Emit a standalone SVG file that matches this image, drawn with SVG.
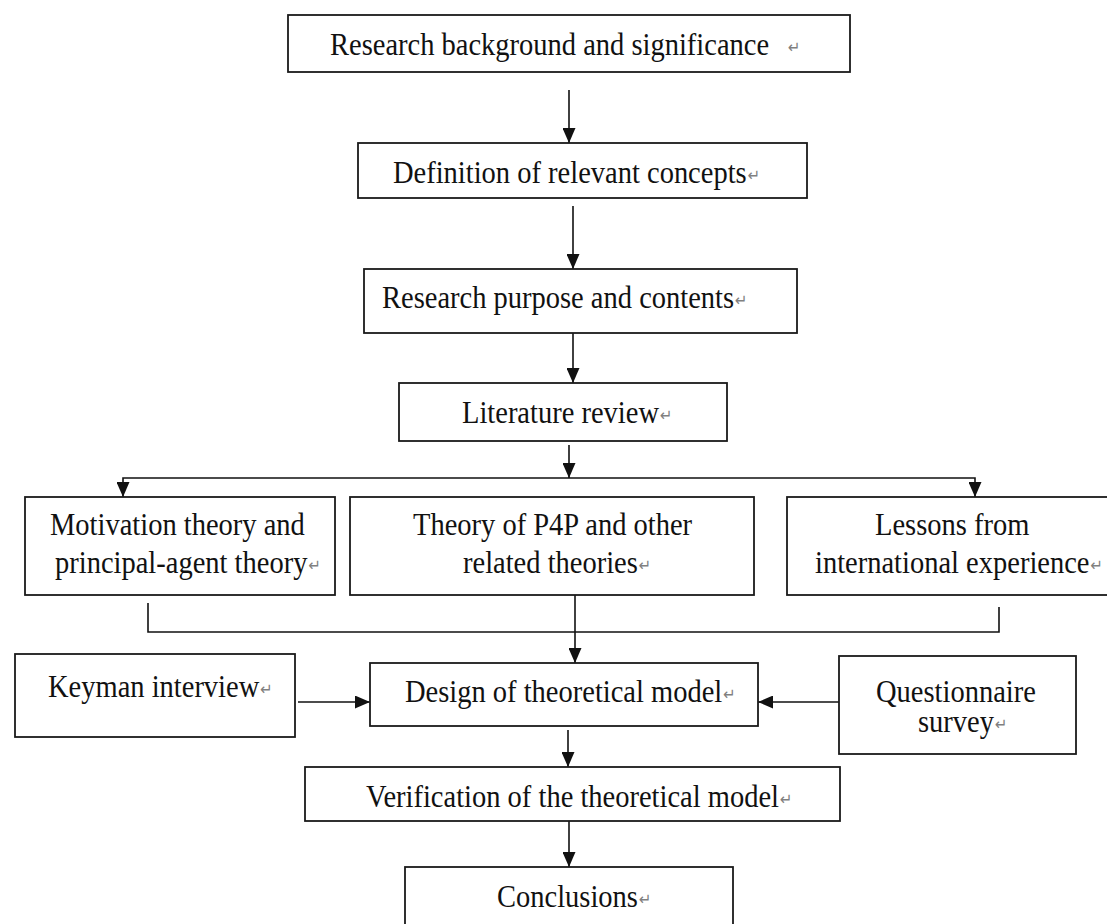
<svg xmlns="http://www.w3.org/2000/svg" width="1107" height="924" viewBox="0 0 1107 924">
  <style>
    .box { fill: #ffffff; stroke: #1a1a1a; stroke-width: 1.8; }
    .lbl { font-family: "Liberation Serif", "Times New Roman", serif; font-size: 28.5px; fill: #111111; }
    .pm { font-family: "DejaVu Sans", sans-serif; font-size: 15px; fill: #808080; }
    .wire { fill: none; stroke: #111111; stroke-width: 1.6; }
  </style>
  <defs>
    <marker id="head" markerUnits="userSpaceOnUse" markerWidth="16" markerHeight="13" refX="15" refY="6.5" orient="auto">
      <path d="M0,0 L15,6.5 L0,13 z" fill="#111111"/>
    </marker>
  </defs>
  <rect width="1107" height="924" fill="#ffffff"/>

  <g id="connectors">
    <path class="wire" d="M569,90 V143" marker-end="url(#head)"/>
    <path class="wire" d="M573,206 V269" marker-end="url(#head)"/>
    <path class="wire" d="M573,333 V383" marker-end="url(#head)"/>
    <path class="wire" d="M569,445 V478" marker-end="url(#head)"/>
    <path class="wire" d="M569,478 H123 V497" marker-end="url(#head)"/>
    <path class="wire" d="M569,478 H975 V497" marker-end="url(#head)"/>
    <path class="wire" d="M148,603 V632 H999 V607"/>
    <path class="wire" d="M575,595 V663" marker-end="url(#head)"/>
    <path class="wire" d="M298,702 H370" marker-end="url(#head)"/>
    <path class="wire" d="M840,702 H758" marker-end="url(#head)"/>
    <path class="wire" d="M568,730 V767" marker-end="url(#head)"/>
    <path class="wire" d="M569,821 V867" marker-end="url(#head)"/>
  </g>

  <!-- labels are drawn slightly taller than wide: matrix(1,0,0,1.08,0,-0.08*baseline) keeps each baseline fixed -->
  <g id="background">
    <rect class="box" x="288" y="15" width="562" height="57"/>
    <text class="lbl" x="330" y="55" transform="matrix(1,0,0,1.08,0,-4.4)">Research background and significance<tspan class="pm" x="788" y="53">↵</tspan></text>
  </g>
  <g id="concepts">
    <rect class="box" x="358" y="143" width="449" height="55"/>
    <text class="lbl" x="393" y="183" transform="matrix(1,0,0,1.08,0,-14.64)">Definition of relevant concepts<tspan class="pm" dx="1" y="181">↵</tspan></text>
  </g>
  <g id="purpose">
    <rect class="box" x="364" y="269" width="433" height="64"/>
    <text class="lbl" x="382" y="308" transform="matrix(1,0,0,1.08,0,-24.64)">Research purpose and contents<tspan class="pm" dx="1" y="306">↵</tspan></text>
  </g>
  <g id="literature">
    <rect class="box" x="399" y="383" width="328" height="58"/>
    <text class="lbl" x="462" y="423" transform="matrix(1,0,0,1.08,0,-33.84)">Literature review<tspan class="pm" dx="1" y="421">↵</tspan></text>
  </g>
  <g id="motivation">
    <rect class="box" x="25" y="497" width="310" height="98"/>
    <text class="lbl" x="50" y="535" transform="matrix(1,0,0,1.08,0,-42.8)">Motivation theory and</text>
    <text class="lbl" x="55" y="573" transform="matrix(1,0,0,1.08,0,-45.84)">principal-agent theory<tspan class="pm" dx="1" y="571">↵</tspan></text>
  </g>
  <g id="p4p">
    <rect class="box" x="350" y="497" width="404" height="98"/>
    <text class="lbl" x="413" y="535" transform="matrix(1,0,0,1.08,0,-42.8)">Theory of P4P and other</text>
    <text class="lbl" x="463" y="573" transform="matrix(1,0,0,1.08,0,-45.84)">related theories<tspan class="pm" dx="1" y="571">↵</tspan></text>
  </g>
  <g id="lessons">
    <rect class="box" x="787" y="497" width="326" height="98"/>
    <text class="lbl" x="875" y="535" transform="matrix(1,0,0,1.08,0,-42.8)">Lessons from</text>
    <text class="lbl" x="815" y="573" transform="matrix(1,0,0,1.08,0,-45.84)">international experience<tspan class="pm" dx="1" y="571">↵</tspan></text>
  </g>
  <g id="keyman">
    <rect class="box" x="15" y="654" width="280" height="83"/>
    <text class="lbl" x="48" y="697" transform="matrix(1,0,0,1.08,0,-55.76)">Keyman interview<tspan class="pm" dx="1" y="695">↵</tspan></text>
  </g>
  <g id="design">
    <rect class="box" x="370" y="663" width="388" height="63"/>
    <text class="lbl" x="405" y="702" transform="matrix(1,0,0,1.08,0,-56.16)">Design of theoretical model<tspan class="pm" dx="1" y="700">↵</tspan></text>
  </g>
  <g id="questionnaire">
    <rect class="box" x="839" y="656" width="237" height="98"/>
    <text class="lbl" x="876" y="702" transform="matrix(1,0,0,1.08,0,-56.16)">Questionnaire</text>
    <text class="lbl" x="918" y="732" transform="matrix(1,0,0,1.08,0,-58.56)">survey<tspan class="pm" dx="1" y="730">↵</tspan></text>
  </g>
  <g id="verification">
    <rect class="box" x="305" y="767" width="535" height="54"/>
    <text class="lbl" x="366" y="807" transform="matrix(1,0,0,1.08,0,-64.56)">Verification of the theoretical model<tspan class="pm" dx="1" y="805">↵</tspan></text>
  </g>
  <g id="conclusions">
    <rect class="box" x="405" y="867" width="328" height="70"/>
    <text class="lbl" x="497" y="907" transform="matrix(1,0,0,1.08,0,-72.56)">Conclusions<tspan class="pm" dx="1" y="905">↵</tspan></text>
  </g>
</svg>
